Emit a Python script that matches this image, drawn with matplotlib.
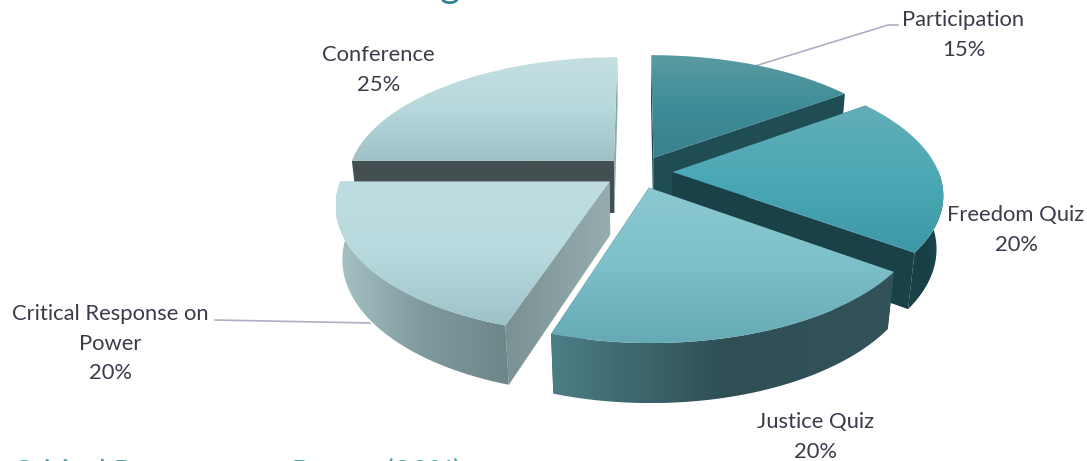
import numpy as np
import matplotlib
matplotlib.use("Agg")
import matplotlib.pyplot as plt
from matplotlib.colors import LinearSegmentedColormap
from matplotlib.patches import Polygon

# Course assessment weighting
labels = ["Participation", "Freedom Quiz", "Justice Quiz",
          "Critical Response on\nPower", "Conference"]
shares = [15, 20, 20, 20, 25]
label_xy = [(963.5, 34.8), (1016, 229.8), (815.5, 436.8), (110.5, 343.8), (378.5, 69.8)]

top_ramps = [
    ["#5b9ba1", "#3d8d99", "#3a808e"],
    ["#62aeb8", "#4aa8b5", "#3e98a5"],
    ["#8bc9d0", "#7dc0ca", "#66aab5"],
    ["#bfdde0", "#b8dade", "#9cc2c8"],
    ["#c4dfe2", "#b6d8dc", "#9fc0c5"],
]
wall_ramps = [
    ["#1f4d53", "#1f4d53"],
    ["#1a4148", "#183f46", "#1d4a52"],
    ["#4c7e86", "#2f4f55", "#33525a"],
    ["#a8c3c6", "#7f9a9d", "#6c8588"],
    ["#434f50", "#434f50"],
]
cut_start = [["#1f4d53"] * 2, ["#1a4148"] * 2, ["#2f4f55"] * 2,
             ["#7a9194", "#97acae"], ["#434f50"] * 2]
cut_end = [["#1f4d53"] * 2, ["#1a4148"] * 2, ["#2f4f55"] * 2,
           ["#96abad"] * 2, ["#8fa9ad"] * 2]

title_colour = "#2f7f99"
caption_colour = "#4aa0a8"
text_colour = "#3b3b4b"
leader_colour = "#b3acc4"

# Projection of the tilted disc onto the page, in pixels
CX, CY = 638.0, 172.0
RX, RY = 266.0, 124.0
PERSP = 0.165
THICK, THICK_PERSP = 54.0, 0.022
EXPLODE = 0.13
W, H = 1087, 461


def project(x, z, h=0.0):
    s = 1.0 / (1.0 - PERSP * z + THICK_PERSP * h)
    return CX + RX * x * s, CY + (RY * z + THICK * h) * s


def ramp(ax, verts, colours, horizontal=False, zorder=2):
    """Fill a polygon with a linear colour ramp across its bounding box."""
    verts = np.asarray(verts)
    x0, y0 = verts.min(axis=0)
    x1, y1 = verts.max(axis=0)
    cmap = LinearSegmentedColormap.from_list("r", colours)
    g = np.linspace(0, 1, 256)
    g = g[None, :] if horizontal else g[:, None]
    poly = Polygon(verts, closed=True, fc="none", ec="none",
                   transform=ax.transData)
    ax.add_patch(poly)
    im = ax.imshow(g, cmap=cmap, extent=(x0, x1, y1, y0), aspect="auto",
                   zorder=zorder, interpolation="bilinear")
    im.set_clip_path(poly)


fig = plt.figure(figsize=(W / 100, H / 100), dpi=100)
ax = fig.add_axes((0, 0, 1, 1))
ax.set_xlim(0, W)
ax.set_ylim(H, 0)
ax.axis("off")

# Slice angles run clockwise from the back of the disc
edges = np.radians(np.cumsum([0] + shares) * 3.6)
slices = []
for i in range(len(shares)):
    a0, a1 = edges[i], edges[i + 1]
    mid = (a0 + a1) / 2
    ox, oz = EXPLODE * np.sin(mid), -EXPLODE * np.cos(mid)
    t = np.linspace(a0, a1, 90)
    slices.append((ox + np.sin(t), oz - np.cos(t), ox, oz))

# Painter's order, back to front
z = 2
for i in [4, 0, 1, 3, 2]:
    rx, rz, ox, oz = slices[i]
    apex_t = project(ox, oz)
    apex_b = project(ox, oz, 1)
    top = np.column_stack(project(rx, rz))
    bottom = np.column_stack(project(rx, rz, 1))

    start_wall = [apex_t, tuple(top[0]), tuple(bottom[0]), apex_b]
    end_wall = [apex_t, tuple(top[-1]), tuple(bottom[-1]), apex_b]
    walls = [(rz[0], start_wall, cut_start[i]), (rz[-1], end_wall, cut_end[i])]
    for _, wall, colours in sorted(walls, key=lambda w: w[0]):
        ramp(ax, wall, colours, horizontal=True, zorder=z)
        z += 1
    # Outer rim only where it faces the viewer
    front = rz > -0.02
    if front.any():
        rim = np.vstack([top[front], bottom[front][::-1]])
        ramp(ax, rim, wall_ramps[i], horizontal=True, zorder=z)
        z += 1
    ramp(ax, np.vstack([[apex_t], top]), top_ramps[i], zorder=z)
    z += 1

# Leader lines sit behind the pie
ax.plot([755, 888, 898], [66, 25, 25], color=leader_colour, lw=1.2, zorder=1)
ax.plot([215, 370], [320, 323], color=leader_colour, lw=1.2, zorder=1)

font = "Lato"
for name, share, (x, y) in zip(labels, shares, label_xy):
    ax.text(x, y, f"{name}\n{share}%", ha="center", va="center", fontsize=15.8,
            color=text_colour, family=font, linespacing=1.6, zorder=200)

# Heading and caption run off the page edges
fig.text(450 / W, 1 + 3 / H, "g", ha="center", va="baseline", fontsize=28,
         color=title_colour, family=font)
fig.text(12 / W, -20.5 / H, "Critical Response on Power (20%)", ha="left",
         va="baseline", fontsize=21.9, color=caption_colour, family=font)

fig.savefig("out.png", dpi=100)
